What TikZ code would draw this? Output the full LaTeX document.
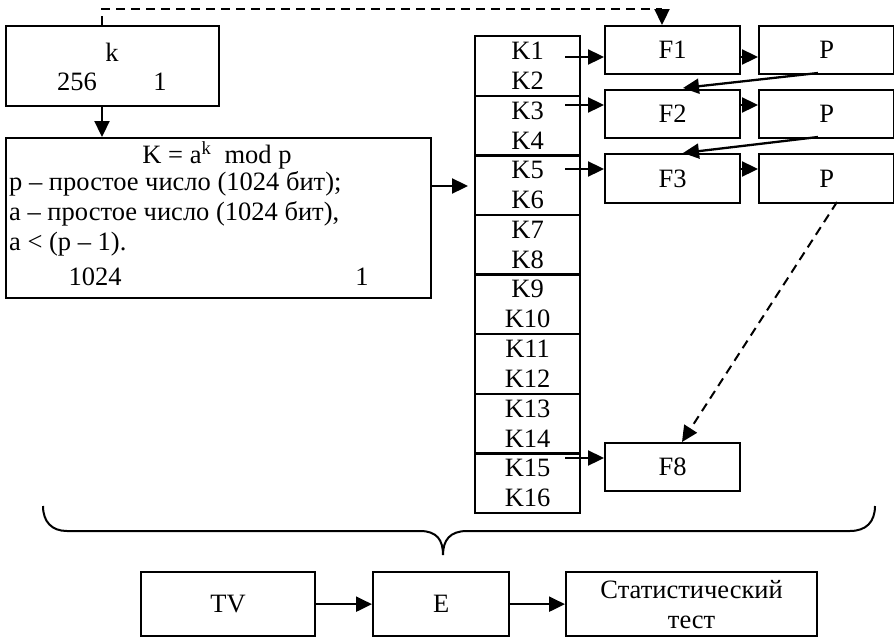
\documentclass[tikz,border=0pt]{standalone}
\usepackage{fontspec}
\setmainfont{Liberation Serif}
\usetikzlibrary{arrows.meta}

\tikzset{
  box/.style={draw,line width=2.3pt,inner sep=0pt,anchor=north west,align=center},
  txt/.style={inner sep=0pt},
  arr/.style={line width=2.3pt,-{Triangle[length=16pt,width=15pt]}},
  dsh/.style={line width=2pt,dash pattern=on 9pt off 6pt}
}

\begin{document}
\begin{tikzpicture}[x=1pt,y=-1pt,font=\fontsize{26.5}{30}\selectfont]
  \useasboundingbox (0,0) rectangle (894,637);

  % key k
  \node[box,minimum width=213,minimum height=80] (kbox) at (5,25) {};
  \node[txt] (kk) at (112,52) {k};
  \node[txt] (k256) at (77,82) {256};
  \node[txt] (kone) at (160,82) {1};

  % formula block
  \node[box,minimum width=425,minimum height=160] (form) at (5,137) {};
  \node[txt] (fhead) at (217,155) {K = a\textsuperscript{k}~ mod p};
  \node[txt,anchor=north west,align=left] (fbody) at (9,171)
    {p – простое число (1024 бит);\\a – простое число (1024 бит),\\a < (p – 1).};
  \node[txt] (fbits) at (95,277) {1024};
  \node[txt] (fone) at (362,277) {1};

  % subkeys
  \foreach \i in {0,...,7}{
    \pgfmathtruncatemacro\ka{2*\i+1}
    \pgfmathtruncatemacro\kb{2*\i+2}
    \node[box,minimum width=105,minimum height=59.6] (c\i) at (474,35+59.6*\i) {K\ka\\K\kb};
  }

  % rounds
  \node[box,minimum width=135,minimum height=48] (F1) at (604,25) {F1};
  \node[box,minimum width=135,minimum height=48] (F2) at (604,89) {F2};
  \node[box,minimum width=135,minimum height=49] (F3) at (604,153) {F3};
  \node[box,minimum width=135,minimum height=48] (F8) at (604,442) {F8};
  \node[box,minimum width=135,minimum height=48] (P1) at (758,25) {P};
  \node[box,minimum width=135,minimum height=48] (P2) at (758,89) {P};
  \node[box,minimum width=135,minimum height=49] (P3) at (758,153) {P};

  % test chain
  \node[box,minimum width=174,minimum height=64] (tv) at (140,571) {TV};
  \node[box,minimum width=136,minimum height=64] (enc) at (372,571) {E};
  \node[box,minimum width=251,minimum height=64] (stat) at (565,571) {Статистический\\тест};

  \coordinate (kd) at (102,25);
  \coordinate (kt) at (102,9);
  \coordinate (ft) at (662,9);
  \coordinate (fin) at (662,25);
  \draw[dsh] (kd) -- (kt) -- (ft);
  \draw[arr] (ft) -- (fin);

  \draw[arr] (kbox.south -| kd) -- (form.north -| kd);

  \coordinate (fo) at (430,186);
  \coordinate (ci) at (468,186);
  \draw[arr] (fo) -- (ci);

  \foreach \n/\y/\f in {1/57/F1,3/105/F2,5/169/F3,15/458/F8}{
    \coordinate (s\n) at (565,\y);
    \draw[arr] (s\n) -- (s\n -| \f.west);
  }
  \foreach \f/\p/\y in {F1/P1/57,F2/P2/105,F3/P3/169}{
    \draw[arr] (\f.east |- 0,\y) -- (\p.west |- 0,\y);
  }

  \coordinate (p1o) at (818,73);
  \coordinate (f2i) at (683,88);
  \coordinate (p2o) at (818,137);
  \coordinate (f3i) at (683,153);
  \draw[arr] (p1o) -- (f2i);
  \draw[arr] (p2o) -- (f3i);

  \coordinate (p3o) at (837,202);
  \coordinate (f8i) at (682,442);
  \draw[dsh,-{Triangle[length=16pt,width=15pt]}] (p3o) -- (f8i);

  \draw[arr] (tv.east) -- (enc.west);
  \draw[arr] (enc.east) -- (stat.west);

  % brace
  \draw[line width=2pt] (43,506) .. controls (43,522) and (52,531) .. (67,531) -- (420,531)
    .. controls (437,531) and (443,540) .. (443,555)
    .. controls (443,540) and (450,531) .. (467,531) -- (850,531)
    .. controls (866,531) and (875,522) .. (875,506);
\end{tikzpicture}
\end{document}
